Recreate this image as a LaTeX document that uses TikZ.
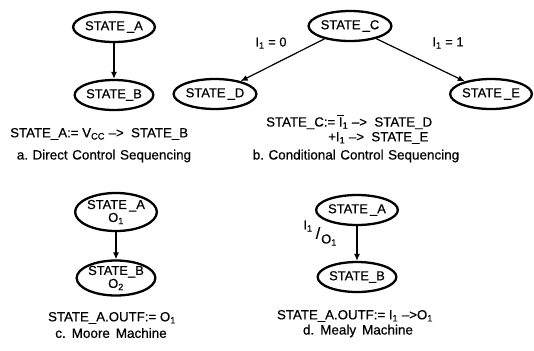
\documentclass[tikz,border=0pt]{standalone}
\usepackage{fontspec}
\setmainfont[FakeBold=0.6]{Liberation Sans}
\usetikzlibrary{shapes.geometric,arrows.meta}
\newcommand\sbs[1]{\textsubscript{#1}}
\newcommand\gp{\hspace{4.5bp}}
\newcommand\barI{{\setbox0\hbox{I}\rlap{\kern-1.5pt\raisebox{\dimexpr\ht0+1.6pt\relax}{\rule{\dimexpr\wd0+3pt\relax}{1pt}}}I}}
\begin{document}
\begin{tikzpicture}[x=1bp,y=-1bp,
  state/.style={ellipse,draw,line width=2.3bp,inner sep=0pt,minimum width=77bp,minimum height=30bp,font=\fontsize{13}{13.5}\selectfont,align=center},
  bigstate/.style={state,font=\fontsize{13}{13}\selectfont},
  arr/.style={line width=1.2bp,-{Latex[length=7bp,width=6bp]}},
  txt/.style={inner sep=0pt,font=\fontsize{13.3}{14}\selectfont},
  captxt/.style={inner sep=0pt,font=\fontsize{13.5}{14}\selectfont},
  lbl/.style={inner sep=0pt,font=\fontsize{13}{14}\selectfont}]
\useasboundingbox (0,0) rectangle (534,350);
% a
\node[state] (a1) at (114,27) {STATE\,\_A};
\node[state] (a2) at (114,95) {STATE\_B};
\draw[arr] (a1) -- (a2);
\node[txt,anchor=west] (ta) at (10,134) {STATE\_A:= V\sbs{CC} \textendash> \ STATE\_B};
\node[captxt] (ca) at (104,156) {a.\gp Direct\gp Control\gp Sequencing};
% b
\node[state] (b1) at (350,26) {STATE\,\_C};
\node[state] (b2) at (215,94) {STATE\,\_D};
\node[state] (b3) at (491,94) {STATE\,\_E};
\draw[arr] (b1) -- (b2);
\draw[arr] (b1) -- (b3);
\node[lbl] (l0) at (271,43) {I\sbs{1} = 0};
\node[lbl] (l1) at (448,43) {I\sbs{1} = 1};
\node[txt,anchor=west] (tb1) at (266,122) {STATE\_C:= \barI\sbs{1} \textendash> \ STATE\_D};
\node[txt,anchor=west] (tb2) at (328,138) {+I\sbs{1} \textendash> \ STATE\_E};
\node[captxt] (cb) at (356,156) {b.\gp Conditional\gp Control\gp Sequencing};
% c
\node[bigstate,minimum height=38bp] (c1) at (116,212) {STATE\,\_A\\O\sbs{1}};
\node[bigstate,minimum height=35bp] (c2) at (116,278) {STATE\_B\\O\sbs{2}};
\draw[arr] (c1) -- (c2);
\node[txt] (tc) at (112,318) {STATE\_A.OUTF:= O\sbs{1}};
\node[captxt] (cc) at (111,333) {c.\hspace{6bp}Moore\hspace{6bp}Machine};
% d
\node[state] (d1) at (357,210) {STATE\,\_A};
\node[state] (d2) at (357,277) {STATE\_B};
\draw[arr] (d1) -- (d2);
\node[lbl] (li) at (308,226) {I\sbs{1}};
\node[lbl,font=\fontsize{16}{16}\selectfont] (ls) at (318,233) {/};
\node[lbl] (lo) at (329,240) {O\sbs{1}};
\node[txt] (td) at (355,316) {STATE\_A.OUTF:= I\sbs{1} \textendash>O\sbs{1}};
\node[captxt] (cd) at (358,331) {d.\hspace{6bp}Mealy\hspace{6bp}Machine};
\end{tikzpicture}
\end{document}
